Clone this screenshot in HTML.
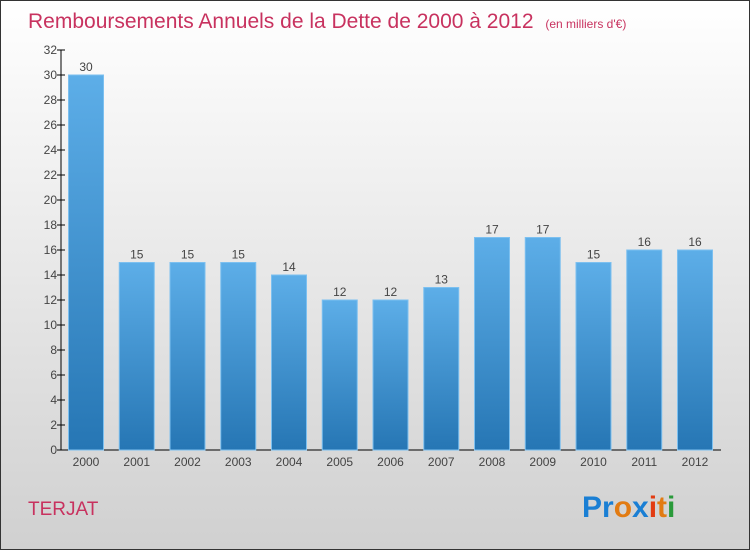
<!DOCTYPE html>
<html><head><meta charset="utf-8"><style>
body{margin:0;width:750px;height:550px;overflow:hidden;font-family:"Liberation Sans",sans-serif}
</style></head><body>
<svg id="c" width="750" height="550">
<defs>
<linearGradient id="bg" x1="0" y1="0" x2="0" y2="1"><stop offset="0" stop-color="#ffffff"/><stop offset="1" stop-color="#d0d0d0"/></linearGradient>
<linearGradient id="bar" x1="0" y1="0" x2="0" y2="1"><stop offset="0" stop-color="#5daee8"/><stop offset="1" stop-color="#2676b4"/></linearGradient>
</defs>
<rect x="0.5" y="0.5" width="749" height="549" fill="url(#bg)" stroke="#333"/>
<text x="28" y="28" font-size="21" fill="#c8325f">Remboursements Annuels de la Dette de 2000 à 2012 <tspan font-size="12" dx="6">(en milliers d'€)</tspan></text>
<text x="28" y="515" font-size="19" fill="#c8325f">TERJAT</text>
<g font-size="30" font-weight="bold">
<text x="582" y="517"><tspan fill="#1a7fd4">Pr</tspan><tspan fill="#e27b12">o</tspan><tspan fill="#1a7fd4">x</tspan><tspan fill="#e23b12">i</tspan><tspan fill="#e27b12">t</tspan><tspan fill="#2a9a3a">i</tspan></text>
</g>
<g id="plot"></g>
</svg>
<script>
const years=["2000","2001","2002","2003","2004","2005","2006","2007","2008","2009","2010","2011","2012"];
const values=[30,15,15,15,14,12,12,13,17,17,15,16,16];
const ticks=[0,2,4,6,8,10,12,14,16,18,20,22,24,26,28,30,32];
const NS="http://www.w3.org/2000/svg",g=document.getElementById('plot');
const x0=61,y0=450,yMax=32,h=400,step=50.75,bw=35;
const y=v=>y0-v/yMax*h, xc=i=>86+i*step;
function mk(t,a,txt){const e=document.createElementNS(NS,t);for(const k in a)e.setAttribute(k,a[k]);if(txt!==undefined)e.textContent=txt;g.appendChild(e);return e;}
let ax=mk('line',{x1:x0,y1:y(yMax),x2:x0,y2:y0,stroke:'#000'});


let bx=mk('line',{x1:x0,y1:y0,x2:721,y2:y0,stroke:'#000'});


ticks.forEach(t=>{
 let l=mk('line',{x1:x0-4,y1:y(t),x2:x0+4,y2:y(t),stroke:'#000'});
 
 
 let tx=mk('text',{x:x0-4,y:y(t)+4,'font-size':12,fill:'#444','text-anchor':'end'},t);
 
 
});
values.forEach((v,i)=>{
 let r=mk('rect',{x:xc(i)-bw/2,y:y(v),width:bw,height:y0-y(v),fill:'url(#bar)',stroke:'#7cc0f0','stroke-width':1});
 
 
 let vl=mk('text',{x:xc(i),y:y(v)-4,'font-size':12,fill:'#444','text-anchor':'middle'},v);
 
 
 let xl=mk('text',{x:xc(i),y:y0+16,'font-size':12,fill:'#444','text-anchor':'middle'},years[i]);
 
 
});
</script>
</body></html>
